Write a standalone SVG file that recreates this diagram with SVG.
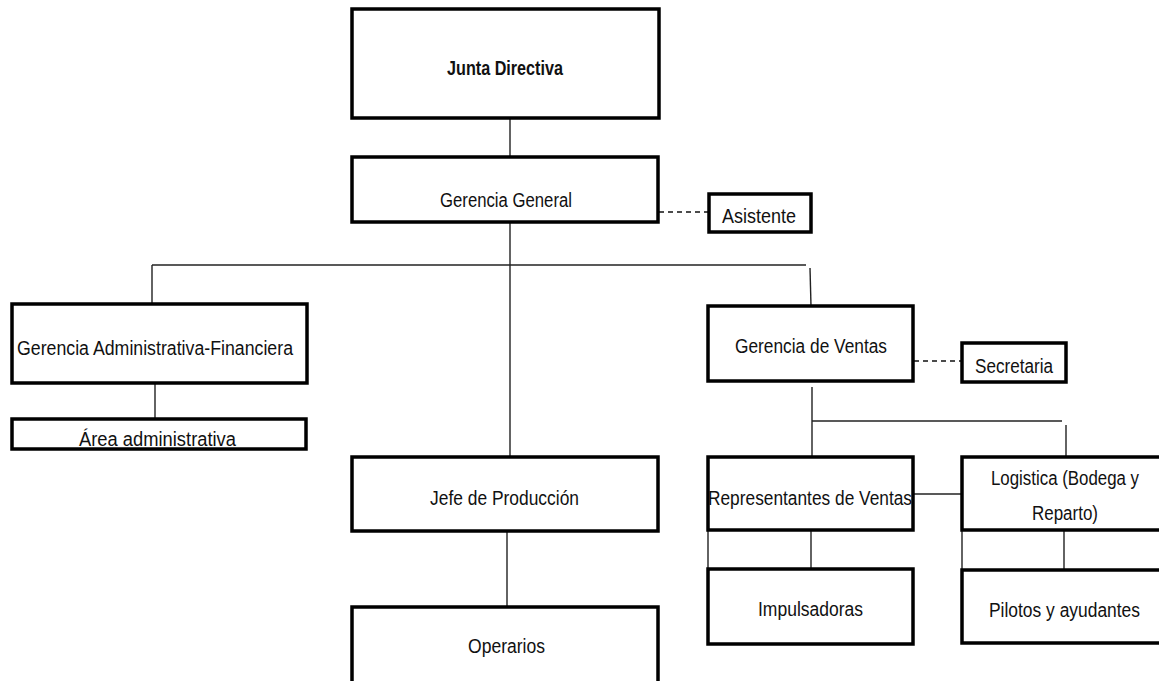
<svg xmlns="http://www.w3.org/2000/svg" width="1159" height="681" viewBox="0 0 1159 681">
<style>
.box{fill:#fff;stroke:#000;stroke-width:3.5}
.ln{stroke:#222;stroke-width:1.4;fill:none}
.dash{stroke:#111;stroke-width:1.4;stroke-dasharray:5 4;fill:none}
text{font-family:"Liberation Sans",Arial,sans-serif;font-size:20px;fill:#111}
.b{font-weight:bold}
</style>
<rect width="1159" height="681" fill="#fff"/>
<g id="connectors">
<line class="ln" x1="510" y1="118" x2="510" y2="156"/>
<line class="ln" x1="510" y1="222" x2="510" y2="456"/>
<line class="ln" x1="152" y1="265" x2="806" y2="265"/>
<line class="ln" x1="152" y1="265" x2="152" y2="304"/>
<line class="ln" x1="810" y1="268" x2="811" y2="306"/>
<line class="dash" x1="659" y1="212" x2="708" y2="212"/>
<line class="ln" x1="155" y1="383" x2="155" y2="419"/>
<line class="dash" x1="914" y1="361" x2="962" y2="361"/>
<line class="ln" x1="812" y1="387" x2="812" y2="457"/>
<line class="ln" x1="812" y1="421" x2="1062" y2="421"/>
<line class="ln" x1="1066" y1="425" x2="1066" y2="456"/>
<line class="ln" x1="913" y1="494" x2="962" y2="494"/>
<line class="ln" x1="811" y1="530" x2="811" y2="568"/>
<line class="ln" x1="708" y1="530" x2="708" y2="568"/>
<line class="ln" x1="1064" y1="530" x2="1064" y2="572"/>
<line class="ln" x1="962" y1="530" x2="962" y2="569"/>
<line class="ln" x1="507" y1="531" x2="507" y2="606"/>
</g>
<g id="junta"><rect class="box" x="352" y="9" width="307" height="109"/><text class="b" x="447" y="75" textLength="116" lengthAdjust="spacingAndGlyphs">Junta Directiva</text></g>
<g id="gerencia-general"><rect class="box" x="352" y="157" width="306" height="65"/><text x="440" y="207" textLength="132" lengthAdjust="spacingAndGlyphs">Gerencia General</text></g>
<g id="asistente"><rect class="box" x="709" y="194" width="102" height="38"/><text x="722" y="223" textLength="74" lengthAdjust="spacingAndGlyphs">Asistente</text></g>
<g id="gerencia-admin"><rect class="box" x="12" y="304" width="295" height="79"/><text x="17" y="355" textLength="276" lengthAdjust="spacingAndGlyphs">Gerencia Administrativa-Financiera</text></g>
<g id="area-admin"><rect class="box" x="12" y="419" width="294" height="30"/><text x="79" y="446" textLength="157" lengthAdjust="spacingAndGlyphs">Área administrativa</text></g>
<g id="gerencia-ventas"><rect class="box" x="708" y="306" width="205" height="75"/><text x="735" y="353" textLength="152" lengthAdjust="spacingAndGlyphs">Gerencia de Ventas</text></g>
<g id="secretaria"><rect class="box" x="962" y="343" width="104" height="39"/><text x="975" y="373" textLength="78" lengthAdjust="spacingAndGlyphs">Secretaria</text></g>
<g id="jefe-produccion"><rect class="box" x="352" y="457" width="306" height="74"/><text x="430" y="505" textLength="149" lengthAdjust="spacingAndGlyphs">Jefe de Producción</text></g>
<g id="operarios"><rect class="box" x="352" y="607" width="306" height="100"/><text x="468" y="653" textLength="77" lengthAdjust="spacingAndGlyphs">Operarios</text></g>
<g id="representantes"><rect class="box" x="708" y="457" width="205" height="73"/><text x="708" y="505" textLength="204" lengthAdjust="spacingAndGlyphs">Representantes de Ventas</text></g>
<g id="logistica"><rect class="box" x="962" y="457" width="220" height="73"/><text x="991" y="485" textLength="148" lengthAdjust="spacingAndGlyphs">Logistica (Bodega y</text><text x="1032" y="520" textLength="66" lengthAdjust="spacingAndGlyphs">Reparto)</text></g>
<g id="impulsadoras"><rect class="box" x="708" y="569" width="205" height="75"/><text x="758" y="616" textLength="105" lengthAdjust="spacingAndGlyphs">Impulsadoras</text></g>
<g id="pilotos"><rect class="box" x="962" y="570" width="220" height="73"/><text x="989" y="617" textLength="151" lengthAdjust="spacingAndGlyphs">Pilotos y ayudantes</text></g>
</svg>
